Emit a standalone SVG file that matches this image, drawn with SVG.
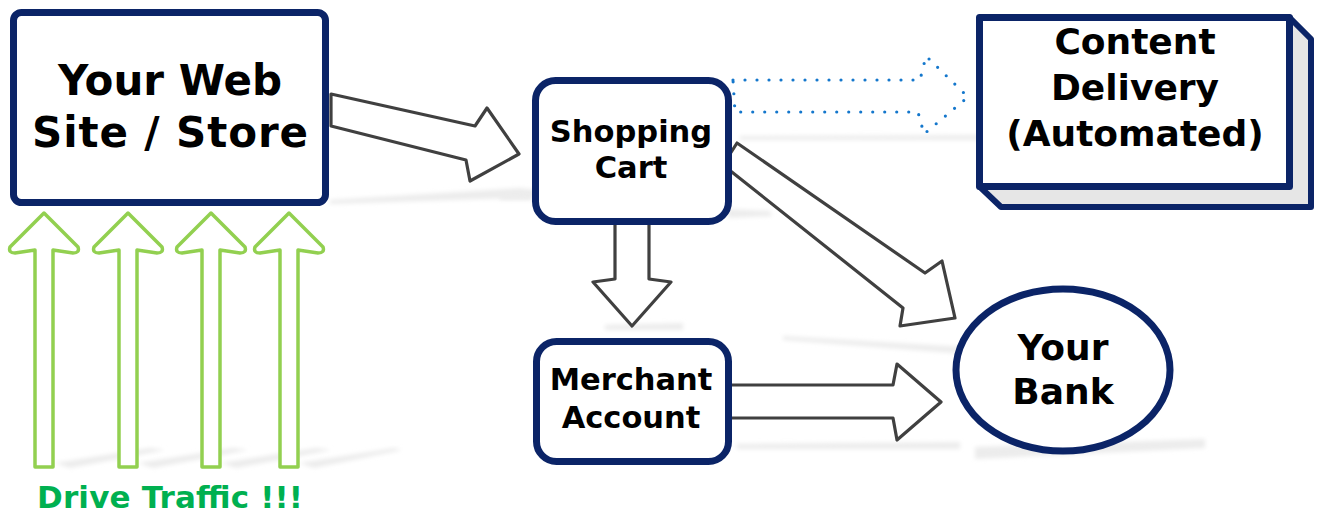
<svg xmlns="http://www.w3.org/2000/svg" width="1320" height="516" viewBox="0 0 1320 516">
<defs>
<filter id="blur" x="-20%" y="-200%" width="140%" height="500%"><feGaussianBlur stdDeviation="2"/></filter>
<style>
.box{fill:#fff;stroke:#0b2467;stroke-width:7;stroke-linejoin:round}
.side{fill:#e6e6e6;stroke:#0b2467;stroke-width:6;stroke-linejoin:round}
.lbl{font-family:"DejaVu Sans",Verdana,sans-serif;font-weight:bold;fill:#000;text-anchor:middle}
.blk{fill:#fff;stroke:#404040;stroke-width:3.2;stroke-linejoin:round}
.grn{fill:#fff;stroke:#92d050;stroke-width:3.5;stroke-linejoin:round}
.dot{fill:none;stroke:#1477cc;stroke-width:3.2;stroke-linecap:round;stroke-linejoin:round;stroke-dasharray:0 12}
.shd{fill:#ececec;filter:url(#blur)}
</style>
</defs>
<g id="shadows">
<path class="shd" d="M330,200 L520,188 L545,191 L545,197 L330,204 Z"/>
<path class="shd" d="M500,195 L532,194 L532,200 L500,200 Z"/>
<path class="shd" d="M728,209 L770,211 L772,216 L728,218 Z"/>
<path class="shd" d="M740,136 L980,135 L980,140 L740,140 Z"/>
<path class="shd" d="M605,325 L683,323 L683,330 L605,330 Z"/>
<path class="shd" d="M783,336 L980,348 L980,355 L783,340 Z"/>
<path class="shd" d="M737,444 L960,442 L960,449 L737,449 Z"/>
<path class="shd" d="M975,447 L1205,439 L1205,448 L975,459 Z"/>
<path class="shd" d="M55,463 L150,448 L165,450 L70,468 Z"/>
<path class="shd" d="M138,463 L233,448 L248,450 L153,468 Z"/>
<path class="shd" d="M221,463 L316,448 L331,450 L236,468 Z"/>
<path class="shd" d="M299,463 L394,448 L402,450 L314,468 Z"/>
</g>
<g id="connectors">
<path class="blk" d="M331,94 L475,126 L487,108 L519,154 L470,181 L466,160 L331,126 Z"/>
<path class="dot" d="M733,80 L920,80 L926,56 L968,97 L924,134 L918,112 L735,112 Z"/>
<path class="blk" d="M615,222 L649,222 L649,279 L671,282 L632,326 L593,282 L615,279 Z"/>
<path class="blk" d="M737,143 L925,273 L942,261 L955,318 L900,326 L903,308 L723,165 Z"/>
<path class="blk" d="M728,385 L893,385 L897,364 L941,402 L897,440 L893,418 L728,418 Z"/>
<path class="grn" d="M44,213 L78,247 Q80,253 73,253 L53,250 L53,467 L35,467 L35,250 L15,253 Q8,253 10,247 Z"/>
<path class="grn" d="M128,213 L162,247 Q164,253 157,253 L137,250 L137,467 L119,467 L119,250 L99,253 Q92,253 94,247 Z"/>
<path class="grn" d="M211,213 L245,247 Q247,253 240,253 L220,250 L220,467 L202,467 L202,250 L182,253 Q175,253 177,247 Z"/>
<path class="grn" d="M289,213 L323,247 Q325,253 318,253 L298,250 L298,467 L280,467 L280,250 L260,253 Q253,253 255,247 Z"/>
</g>
<g id="website">
<rect class="box" x="13.5" y="12.5" width="312" height="190" rx="8"/>
<text class="lbl" x="170" y="95" font-size="42">Your Web</text>
<text class="lbl" x="170" y="147" font-size="42" textLength="276" lengthAdjust="spacing">Site / Store</text>
</g>
<g id="cart">
<rect class="box" x="535.5" y="80.5" width="193" height="141" rx="20"/>
<text class="lbl" x="631" y="142" font-size="30.5">Shopping</text>
<text class="lbl" x="631" y="178" font-size="30.5">Cart</text>
</g>
<g id="merchant">
<rect class="box" x="536.5" y="341.5" width="192" height="120" rx="20"/>
<text class="lbl" x="631" y="390" font-size="30.5">Merchant</text>
<text class="lbl" x="631" y="428" font-size="30.5">Account</text>
</g>
<g id="content">
<path class="side" d="M1289.5,17.5 L1311,39 L1311,207 L1001,207 L979.5,186.5 Z"/>
<rect class="box" x="979.5" y="17.5" width="310" height="169"/>
<text class="lbl" x="1135" y="54" font-size="36">Content</text>
<text class="lbl" x="1135" y="100" font-size="36">Delivery</text>
<text class="lbl" x="1135" y="146" font-size="36">(Automated)</text>
</g>
<g id="bank">
<ellipse class="box" cx="1063" cy="370" rx="107" ry="81" stroke-width="6"/>
<text class="lbl" x="1063" y="360" font-size="36">Your</text>
<text class="lbl" x="1063" y="404" font-size="36">Bank</text>
</g>
<g id="traffic">
<text x="37" y="508" font-family="'DejaVu Sans',Verdana,sans-serif" font-weight="bold" font-size="31" fill="#00b050" textLength="266" lengthAdjust="spacing">Drive Traffic !!!</text>
</g>
</svg>
